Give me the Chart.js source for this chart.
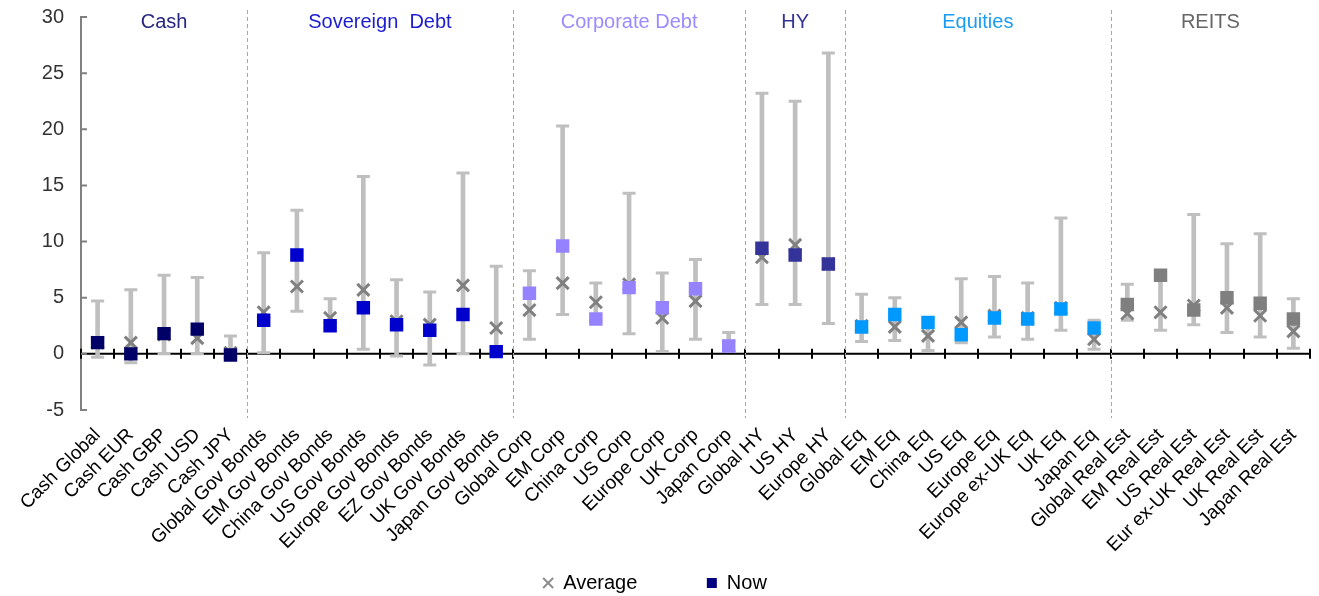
<!DOCTYPE html>
<html>
<head>
<meta charset="utf-8">
<script src="https://cdn.jsdelivr.net/npm/chart.js@4"></script>
<style>
  html, body { margin: 0; padding: 0; background: #fff; }
  #wrap { width: 1319px; height: 596px; }
</style>
</head>
<body>
<div id="wrap"><canvas id="riskChart" width="1319" height="596"></canvas></div>
<script>
// asset classes, left to right
const categories = [
    "Cash Global", "Cash EUR", "Cash GBP", "Cash USD", "Cash JPY",
    "Global Gov Bonds", "EM Gov Bonds", "China Gov Bonds", "US Gov Bonds", "Europe Gov Bonds", "EZ Gov Bonds", "UK Gov Bonds", "Japan Gov Bonds",
    "Global Corp", "EM Corp", "China Corp", "US Corp", "Europe Corp", "UK Corp", "Japan Corp",
    "Global HY", "US HY", "Europe HY",
    "Global Eq", "EM Eq", "China Eq", "US Eq", "Europe Eq", "Europe ex-UK Eq", "UK Eq", "Japan Eq",
    "Global Real Est", "EM Real Est", "US Real Est", "Eur ex-UK Real Est", "UK Real Est", "Japan Real Est"
];
const groupNames = ["Cash", "Sovereign  Debt", "Corporate Debt", "HY", "Equities", "REITS"];
const groupSizes = [5, 8, 7, 3, 8, 6];

const nowVals = [1.0, 0.0, 1.8, 2.2, -0.1,
    3.0, 8.8, 2.5, 4.1, 2.6, 2.1, 3.5, 0.2,
    5.4, 9.6, 3.1, 5.9, 4.1, 5.8, 0.7,
    9.4, 8.8, 8.0,
    2.4, 3.5, 2.8, 1.7, 3.2, 3.1, 4.0, 2.3,
    4.4, 7.0, 3.9, 5.0, 4.5, 3.1];
const avgVals = [1.0, 1.0, 1.7, 1.4, 0.1,
    3.7, 6.0, 3.2, 5.7, 2.9, 2.6, 6.1, 2.3,
    3.9, 6.3, 4.6, 6.2, 3.2, 4.7, 0.7,
    8.6, 9.7, 8.0,
    2.5, 2.4, 1.6, 2.8, 3.4, 3.2, 4.1, 1.3,
    3.6, 3.7, 4.3, 4.1, 3.4, 2.0];
const highVals = [4.7, 5.7, 7.0, 6.8, 1.6,
    9.0, 12.8, 4.9, 15.8, 6.6, 5.5, 16.1, 7.8,
    7.4, 20.3, 6.3, 14.3, 7.2, 8.4, 1.9,
    23.2, 22.5, 26.8,
    5.3, 5.0, 3.0, 6.7, 6.9, 6.3, 12.1, 3.0,
    6.2, 7.0, 12.4, 9.8, 10.7, 4.9];
const lowVals = [-0.3, -0.8, 0.0, 0.0, -0.4,
    0.1, 3.8, 2.3, 0.4, -0.2, -1.0, 0.0, -0.1,
    1.3, 3.5, 3.0, 1.8, 0.2, 1.3, 0.3,
    4.4, 4.4, 2.7,
    1.1, 1.2, 0.3, 1.0, 1.5, 1.3, 2.1, 0.4,
    3.0, 2.1, 2.6, 1.9, 1.5, 0.5];
const yTicks = [-5, 0, 5, 10, 15, 20, 25, 30];

const groupColors = ["#000066", "#0000cc", "#9482ff", "#333399", "#0099ff", "#7f7f7f"];
const headerColors = ["#262680", "#1c1cd0", "#9a8cff", "#333399", "#1a9cf0", "#666666"];
const whiskerGrey = "#bfbfbf";
const FONT = "'Liberation Sans', Arial, sans-serif";

let pointColors = [];
groupSizes.forEach((n, g) => { for (let i = 0; i < n; i++) pointColors.push(groupColors[g]); });

const decorations = {
    id: 'decorations',
    beforeDatasetsDraw(chart) {
        const { ctx, chartArea, scales: { x, y } } = chart;
        const step = (chartArea.right - chartArea.left) / categories.length;
        const y0 = y.getPixelForValue(0);
        ctx.save();
        // zero axis with boundary ticks
        ctx.strokeStyle = "#000";
        ctx.lineWidth = 2;
        ctx.beginPath();
        ctx.moveTo(chartArea.left, y0);
        ctx.lineTo(chartArea.right, y0);
        for (let i = 0; i <= categories.length; i++) {
            const px = Math.round(chartArea.left + i * step);
            ctx.moveTo(px, y0 - 5);
            ctx.lineTo(px, y0 + 5);
        }
        ctx.stroke();
        // inner ticks on the value axis
        ctx.strokeStyle = "#808080";
        ctx.beginPath();
        yTicks.forEach(v => {
            const py = y.getPixelForValue(v);
            ctx.moveTo(chartArea.left, py);
            ctx.lineTo(chartArea.left + 6, py);
        });
        ctx.stroke();
        // group dividers
        ctx.strokeStyle = "#a6a6a6";
        ctx.lineWidth = 1;
        ctx.setLineDash([4, 3]);
        let idx = 0;
        groupSizes.forEach((n, g) => {
            const start = chartArea.left + idx * step;
            idx += n;
            if (g > 0) {
                ctx.beginPath();
                ctx.moveTo(Math.round(start) + 0.5, 10);
                ctx.lineTo(Math.round(start) + 0.5, 418);
                ctx.stroke();
            }
        });
        ctx.setLineDash([]);
        // group headers
        ctx.font = "20px " + FONT;
        ctx.textAlign = "center";
        ctx.textBaseline = "middle";
        idx = 0;
        groupSizes.forEach((n, g) => {
            const cx = chartArea.left + (idx + n / 2) * step;
            idx += n;
            ctx.fillStyle = headerColors[g];
            ctx.fillText(groupNames[g], cx, 22);
        });
        ctx.restore();
    }
};

const ctx = document.getElementById('riskChart').getContext('2d');
new Chart(ctx, {
    type: 'bar',
    data: {
        labels: categories,
        datasets: [
            {
                type: 'line', label: 'Now', data: nowVals, showLine: false,
                pointStyle: 'rect', pointRadius: 9.5, pointHoverRadius: 9.5,
                backgroundColor: pointColors, borderWidth: 0, borderColor: pointColors
            },
            {
                type: 'line', label: 'Average', data: avgVals, showLine: false,
                pointStyle: 'crossRot', pointRadius: 8.5, pointHoverRadius: 8.5,
                borderColor: "#808080", backgroundColor: "#808080", borderWidth: 3
            },
            {
                type: 'line', label: 'hi', data: highVals, showLine: false,
                pointStyle: 'line', pointRadius: 6.5, pointHoverRadius: 6.5,
                borderColor: whiskerGrey, borderWidth: 3
            },
            {
                type: 'line', label: 'lo', data: lowVals, showLine: false,
                pointStyle: 'line', pointRadius: 6.5, pointHoverRadius: 6.5,
                borderColor: whiskerGrey, borderWidth: 3
            },
            {
                label: 'range', data: lowVals.map((lo, i) => [lo, highVals[i]]),
                backgroundColor: whiskerGrey, barThickness: 4
            }
        ]
    },
    options: {
        responsive: false,
        animation: false,
        layout: { autoPadding: false, padding: { top: 17, right: 9, left: 0, bottom: 0 } },
        scales: {
            x: {
                grid: { display: false },
                border: { display: false },
                ticks: {
                    color: "#000", font: { family: FONT, size: 19 },
                    maxRotation: 45, minRotation: 45, autoSkip: false, padding: 6
                },
                afterFit(scale) {
                    scale.height = 159;
                    scale.paddingLeft = 0;
                    scale.paddingRight = 0;
                }
            },
            y: {
                min: -5, max: 30,
                grid: {
                    drawTicks: false,
                    color: () => 'transparent'
                },
                border: { display: true, color: "#808080", width: 2 },
                ticks: {
                    stepSize: 5, color: "#333", padding: 17,
                    font: { family: FONT, size: 20 }
                },
                afterFit(scale) {
                    scale.width = 81;
                    scale.paddingTop = 0;
                    scale.paddingBottom = 0;
                }
            }
        },
        plugins: {
            tooltip: { enabled: false },
            legend: {
                position: 'bottom',
                maxHeight: 27,
                labels: {
                    usePointStyle: true, boxWidth: 10, boxHeight: 10, padding: 4,
                    color: "#000", font: { family: FONT, size: 20 },
                    generateLabels(chart) {
                        const items = Chart.defaults.plugins.legend.labels.generateLabels(chart)
                            .filter(it => it.text === 'Now' || it.text === 'Average');
                        items.sort((a, b) => (a.text === 'Average' ? -1 : 1));
                        items.forEach(it => {
                            if (it.text === 'Average') {
                                it.text = 'Average\u2003\u2003\u2003 ';
                                it.strokeStyle = "#8c8c8c";
                                it.lineWidth = 2;
                            } else {
                                it.fillStyle = "#000080";
                                it.strokeStyle = "#000080";
                            }
                        });
                        return items;
                    }
                }
            }
        }
    },
    plugins: [decorations]
});
</script>
</body>
</html>
